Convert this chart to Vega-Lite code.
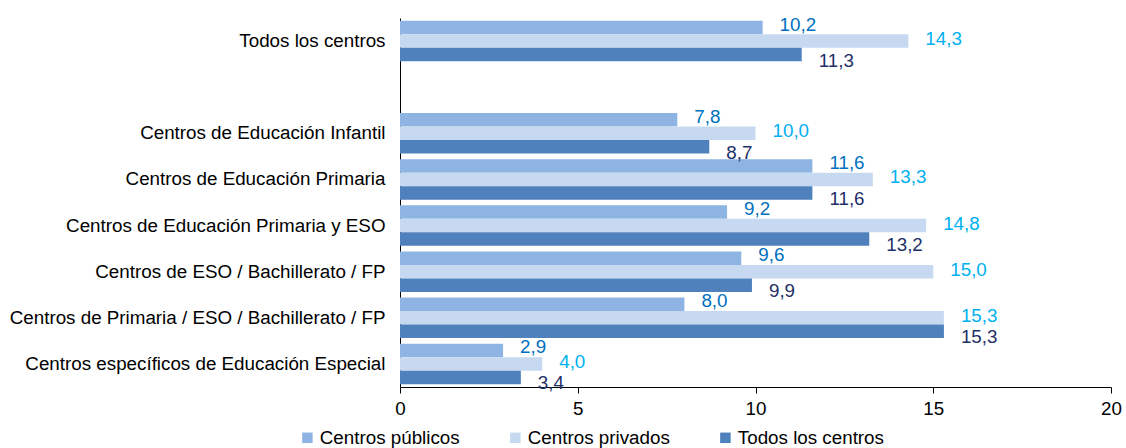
{
  "$schema": "https://vega.github.io/schema/vega-lite/v6.json",
  "width": 711,
  "height": 369,
  "autosize": "none",
  "padding": {"left": 400, "top": 18, "right": 15, "bottom": 61},
  "background": "white",
  "config": {
    "view": {"stroke": null},
    "font": "Liberation Sans",
    "locale": {"number": {"decimal": ",", "thousands": ".", "grouping": [3], "currency": ["", " €"]}}
  },
  "data": {
    "values": [
      {"centro": "Todos los centros", "serie": "Centros públicos", "valor": 10.2},
      {"centro": "Todos los centros", "serie": "Centros privados", "valor": 14.3},
      {"centro": "Todos los centros", "serie": "Todos los centros", "valor": 11.3},
      {"centro": "Centros de Educación Infantil", "serie": "Centros públicos", "valor": 7.8},
      {"centro": "Centros de Educación Infantil", "serie": "Centros privados", "valor": 10.0},
      {"centro": "Centros de Educación Infantil", "serie": "Todos los centros", "valor": 8.7},
      {"centro": "Centros de Educación Primaria", "serie": "Centros públicos", "valor": 11.6},
      {"centro": "Centros de Educación Primaria", "serie": "Centros privados", "valor": 13.3},
      {"centro": "Centros de Educación Primaria", "serie": "Todos los centros", "valor": 11.6},
      {"centro": "Centros de Educación Primaria y ESO", "serie": "Centros públicos", "valor": 9.2},
      {"centro": "Centros de Educación Primaria y ESO", "serie": "Centros privados", "valor": 14.8},
      {"centro": "Centros de Educación Primaria y ESO", "serie": "Todos los centros", "valor": 13.2},
      {"centro": "Centros de ESO / Bachillerato / FP", "serie": "Centros públicos", "valor": 9.6},
      {"centro": "Centros de ESO / Bachillerato / FP", "serie": "Centros privados", "valor": 15.0},
      {"centro": "Centros de ESO / Bachillerato / FP", "serie": "Todos los centros", "valor": 9.9},
      {"centro": "Centros de Primaria / ESO / Bachillerato / FP", "serie": "Centros públicos", "valor": 8.0},
      {"centro": "Centros de Primaria / ESO / Bachillerato / FP", "serie": "Centros privados", "valor": 15.3},
      {"centro": "Centros de Primaria / ESO / Bachillerato / FP", "serie": "Todos los centros", "valor": 15.3},
      {"centro": "Centros específicos de Educación Especial", "serie": "Centros públicos", "valor": 2.9},
      {"centro": "Centros específicos de Educación Especial", "serie": "Centros privados", "valor": 4.0},
      {"centro": "Centros específicos de Educación Especial", "serie": "Todos los centros", "valor": 3.4}
    ]
  },
  "encoding": {
    "y": {
      "field": "centro",
      "type": "nominal",
      "title": null,
      "scale": {
        "domain": ["Todos los centros", " ", "Centros de Educación Infantil", "Centros de Educación Primaria", "Centros de Educación Primaria y ESO", "Centros de ESO / Bachillerato / FP", "Centros de Primaria / ESO / Bachillerato / FP", "Centros específicos de Educación Especial"],
        "paddingInner": 0.12,
        "paddingOuter": 0.06
      },
      "axis": {
        "ticks": false,
        "domainColor": "#000000",
        "domainWidth": 1,
        "labelFontSize": 18.8,
        "labelColor": "#000000",
        "labelPadding": 15,
        "labelLimit": 400,
        "labelFont": "Liberation Sans"
      }
    },
    "yOffset": {
      "field": "serie",
      "type": "nominal",
      "scale": {"domain": ["Centros públicos", "Centros privados", "Todos los centros"]}
    },
    "x": {
      "field": "valor",
      "type": "quantitative",
      "title": null,
      "scale": {"domain": [0, 20], "nice": false},
      "axis": {
        "values": [0, 5, 10, 15, 20],
        "grid": false,
        "domainColor": "#000000",
        "tickColor": "#000000",
        "tickSize": 6,
        "labelFontSize": 18.8,
        "labelColor": "#000000",
        "labelPadding": 6,
        "labelFlush": false,
        "labelFont": "Liberation Sans",
        "format": "d"
      }
    }
  },
  "layer": [
    {
      "mark": {"type": "bar"},
      "encoding": {
        "color": {
          "field": "serie",
          "type": "nominal",
          "title": null,
          "scale": {
            "domain": ["Centros públicos", "Centros privados", "Todos los centros"],
            "range": ["#8EB4E3", "#C6D9F0", "#4F81BD"]
          },
          "legend": {
            "orient": "none",
            "legendX": -102,
            "legendY": 410,
            "direction": "horizontal",
            "symbolType": "square",
            "symbolSize": 110,
            "symbolStrokeWidth": 0,
            "labelFontSize": 18.8,
            "labelColor": "#000000",
            "labelFont": "Liberation Sans",
            "labelOffset": 3,
            "columnPadding": 46,
            "labelLimit": 300
          }
        }
      }
    },
    {
      "transform": [{"filter": "datum.serie === 'Centros públicos'"}],
      "mark": {"type": "text", "align": "left", "baseline": "middle", "dx": 17, "dy": -3, "fontSize": 18.8, "font": "Liberation Sans", "fill": "#0070C0"},
      "encoding": {
        "text": {"field": "valor", "type": "quantitative", "format": ".1f"}
      }
    },
    {
      "transform": [{"filter": "datum.serie === 'Centros privados'"}],
      "mark": {"type": "text", "align": "left", "baseline": "middle", "dx": 17, "dy": -2, "fontSize": 18.8, "font": "Liberation Sans", "fill": "#00B0F0"},
      "encoding": {
        "text": {"field": "valor", "type": "quantitative", "format": ".1f"}
      }
    },
    {
      "transform": [{"filter": "datum.serie === 'Todos los centros'"}],
      "mark": {"type": "text", "align": "left", "baseline": "middle", "dx": 17, "dy": 6, "fontSize": 18.8, "font": "Liberation Sans", "fill": "#1F3068"},
      "encoding": {
        "text": {"field": "valor", "type": "quantitative", "format": ".1f"}
      }
    }
  ]
}
